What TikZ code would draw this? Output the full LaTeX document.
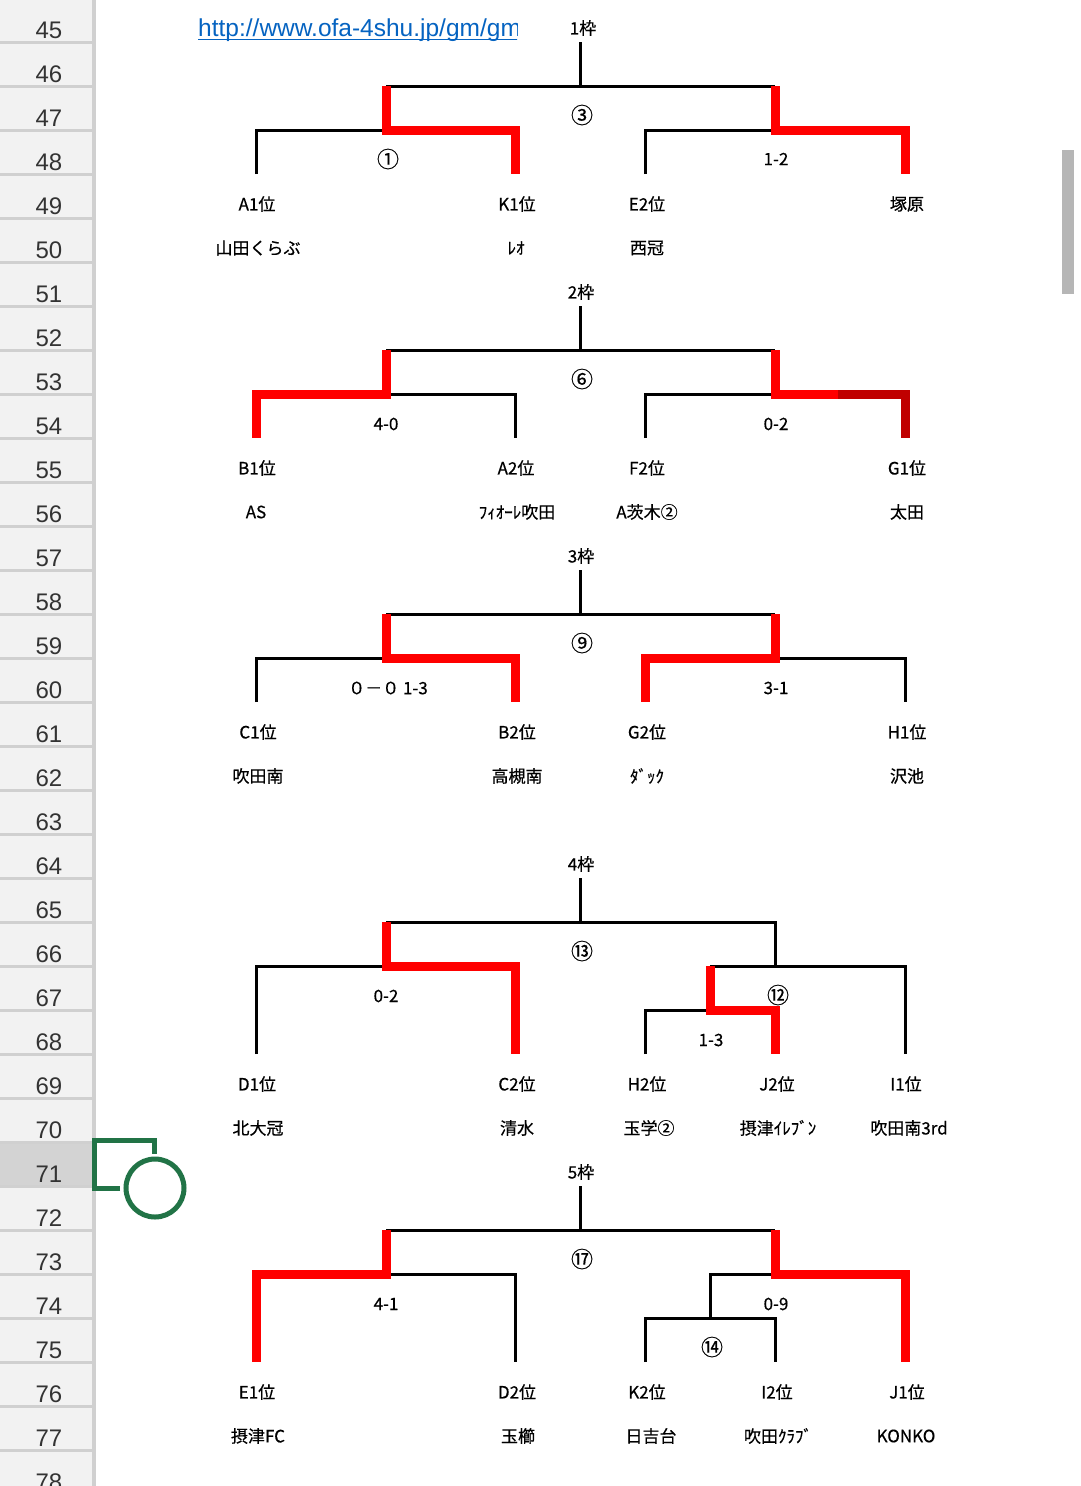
\documentclass[tikz,border=0pt]{standalone}
\usepackage{fontspec}
\setmainfont{Liberation Sans}
\newfontfamily\jp[FakeBold=0.5]{Noto Sans CJK JP}
\usetikzlibrary{positioning}
\definecolor{wred}{RGB}{255,0,0}
\definecolor{dred}{RGB}{192,0,0}
\definecolor{hdrfill}{RGB}{242,242,242}
\definecolor{hdrsel}{RGB}{211,211,211}
\definecolor{hdrline}{RGB}{208,208,208}
\definecolor{xlgreen}{RGB}{33,115,70}
\definecolor{link}{RGB}{5,99,193}
\definecolor{scroll}{RGB}{182,182,182}
\definecolor{numgray}{RGB}{51,51,51}

\begin{document}
\begin{tikzpicture}[x=1pt,y=-1pt,
	team/.style={font={\jp\fontsize{17pt}{20pt}\selectfont},inner sep=0pt},
	circ/.style={font={\jp\fontsize{22pt}{24pt}\selectfont},inner sep=0pt},
	lose/.style={line width=3pt},
	win/.style={line width=9pt,wred},
	rownum/.style={font={\fontsize{24pt}{28pt}\selectfont},text=numgray,anchor=base,inner sep=0pt}]
	\useasboundingbox (0,0) rectangle (1080,1486);
	\clip (0,0) rectangle (1080,1486);
	\fill[white] (0,0) rectangle (1080,1486);
	% row header
	\fill[hdrfill] (0,0) rectangle (92,1486);
	\fill[hdrsel] (0,1142) rectangle (92,1186);
	\foreach \i in {0,...,32}
		\draw[hdrline,line width=3pt] (0,42+44*\i) -- (92,42+44*\i);
	\fill[hdrline] (92,0) rectangle (96,1486);
	\foreach \r [count=\i from 0] in {45,...,78}
		\node[rownum] (r\r) at (49,38+44*\i) {\r};
	% link and scrollbar
	\begin{scope}
		\clip (190,0) rectangle (517,42);
		\node[anchor=base west,inner sep=0pt,text=link,font={\fontsize{24.5pt}{28pt}\selectfont}] (url) at (198,36) {http://www.ofa-4shu.jp/gm/gm};
		\draw[link,line width=1.5pt] (url.base west) ++(0,3.5) -- ++(330,0);
	\end{scope}
	\fill[scroll] (1062,150) rectangle (1074,294);

	% 1st bracket
	\draw[lose] (580,42) -- (580,86) (386,86) -- (775,86);
	\draw[lose] (256,174) -- (256,130) -- (386,130) (645,174) -- (645,130) -- (775,130);
	\draw[win] (386,86) -- (386,130) -- (515,130) -- (515,174);
	\draw[win] (775,86) -- (775,130) -- (905,130) -- (905,174);
	\node[team] (w1) at (583,28) {1枠};
	\node[circ] (m3) at (582,115) {③};
	\node[circ] (m1) at (388,159) {①};
	\node[team] (s1) at (776,159) {1-2};
	\node[team] (a1) at (257,204) {A1位};
	\node[team] (k1) at (517,204) {K1位};
	\node[team] (e2) at (647,204) {E2位};
	\node[team] (tk) at (907,204) {塚原};
	\node[team] (ym) at (258,248) {山田くらぶ};
	\node[team] (ro) at (516,248) {ﾚｵ};
	\node[team] (sk) at (647,248) {西冠};

	% 2nd bracket
	\draw[lose] (580,306) -- (580,350) (386,350) -- (775,350);
	\draw[lose] (386,394) -- (515,394) -- (515,438) (645,438) -- (645,394) -- (775,394);
	\draw[win] (386,350) -- (386,394) -- (256,394) -- (256,438);
	\draw[win] (775,350) -- (775,394) -- (838,394);
	\draw[win,dred] (838,394) -- (905,394) -- (905,438);
	\node[team] (w2) at (581,292) {2枠};
	\node[circ] (m6) at (582,379) {⑥};
	\node[team] (s2) at (386,424) {4-0};
	\node[team] (s3) at (776,424) {0-2};
	\node[team] (b1) at (257,468) {B1位};
	\node[team] (a2) at (516,468) {A2位};
	\node[team] (f2) at (647,468) {F2位};
	\node[team] (g1) at (907,468) {G1位};
	\node[team] (as) at (256,512) {AS};
	\node[team] (fs) at (517,512) {ﾌｨｵｰﾚ吹田};
	\node[team] (ai) at (647,512) {A茨木②};
	\node[team] (ot) at (907,512) {太田};

	% 3rd bracket
	\draw[lose] (580,570) -- (580,614) (386,614) -- (775,614);
	\draw[lose] (256,702) -- (256,658) -- (386,658) (775,658) -- (905,658) -- (905,702);
	\draw[win] (386,614) -- (386,658) -- (515,658) -- (515,702);
	\draw[win] (775,614) -- (775,658) -- (645,658) -- (645,702);
	\node[team] (w3) at (581,556) {3枠};
	\node[circ] (m9) at (582,643) {⑨};
	\node[team] (s4) at (388,688) {０－０ 1-3};
	\node[team] (s5) at (776,688) {3-1};
	\node[team] (c1) at (258,732) {C1位};
	\node[team] (b2) at (517,732) {B2位};
	\node[team] (g2) at (647,732) {G2位};
	\node[team] (h1) at (907,732) {H1位};
	\node[team] (sm) at (258,776) {吹田南};
	\node[team] (tm) at (517,776) {高槻南};
	\node[team] (dk) at (647,776) {ﾀﾞｯｸ};
	\node[team] (sw) at (907,776) {沢池};

	% 4th bracket
	\draw[lose] (580,878) -- (580,922) (386,922) -- (775,922) -- (775,966);
	\draw[lose] (256,1054) -- (256,966) -- (386,966) (710,966) -- (905,966) -- (905,1054);
	\draw[lose] (645,1054) -- (645,1010) -- (710,1010);
	\draw[win] (386,922) -- (386,966) -- (515,966) -- (515,1054);
	\draw[win] (710,966) -- (710,1010) -- (775,1010) -- (775,1054);
	\node[team] (w4) at (581,864) {4枠};
	\node[circ] (m13) at (582,951) {⑬};
	\node[team] (s6) at (386,996) {0-2};
	\node[circ] (m12) at (778,995) {⑫};
	\node[team] (s7) at (711,1040) {1-3};
	\node[team] (d1) at (257,1084) {D1位};
	\node[team] (c2) at (517,1084) {C2位};
	\node[team] (h2) at (647,1084) {H2位};
	\node[team] (j2) at (777,1084) {J2位};
	\node[team] (i1) at (906,1084) {I1位};
	\node[team] (hd) at (258,1128) {北大冠};
	\node[team] (sz) at (517,1128) {清水};
	\node[team] (tg) at (649,1128) {玉学②};
	\node[team] (se) at (778,1128) {摂津ｲﾚﾌﾞﾝ};
	\node[team] (s3rd) at (909,1128) {吹田南3rd};

	% 5th bracket
	\draw[lose] (580,1186) -- (580,1230) (386,1230) -- (775,1230);
	\draw[lose] (386,1274) -- (515,1274) -- (515,1362) (775,1274) -- (710,1274) -- (710,1318);
	\draw[lose] (645,1362) -- (645,1318) -- (775,1318) -- (775,1362);
	\draw[win] (386,1230) -- (386,1274) -- (256,1274) -- (256,1362);
	\draw[win] (775,1230) -- (775,1274) -- (905,1274) -- (905,1362);
	\node[team] (w5) at (581,1172) {5枠};
	\node[circ] (m17) at (582,1259) {⑰};
	\node[team] (s8) at (386,1304) {4-1};
	\node[team] (s9) at (776,1304) {0-9};
	\node[circ] (m14) at (712,1347) {⑭};
	\node[team] (e1) at (257,1392) {E1位};
	\node[team] (d2) at (517,1392) {D2位};
	\node[team] (k2) at (647,1392) {K2位};
	\node[team] (i2) at (777,1392) {I2位};
	\node[team] (j1) at (907,1392) {J1位};
	\node[team] (sf) at (258,1436) {摂津FC};
	\node[team] (tgs) at (518,1436) {玉櫛};
	\node[team] (hy) at (651,1436) {日吉台};
	\node[team] (sc) at (778,1436) {吹田ｸﾗﾌﾞ};
	\node[team] (kk) at (906,1436) {KONKO};

	% selection marker
	\draw[xlgreen,line width=5pt] (120,1188) -- (94.5,1188) -- (94.5,1140.5) -- (154.5,1140.5) -- (154.5,1154);
	\draw[xlgreen,line width=5pt] (155,1188) circle[radius=29];
\end{tikzpicture}
\end{document}
